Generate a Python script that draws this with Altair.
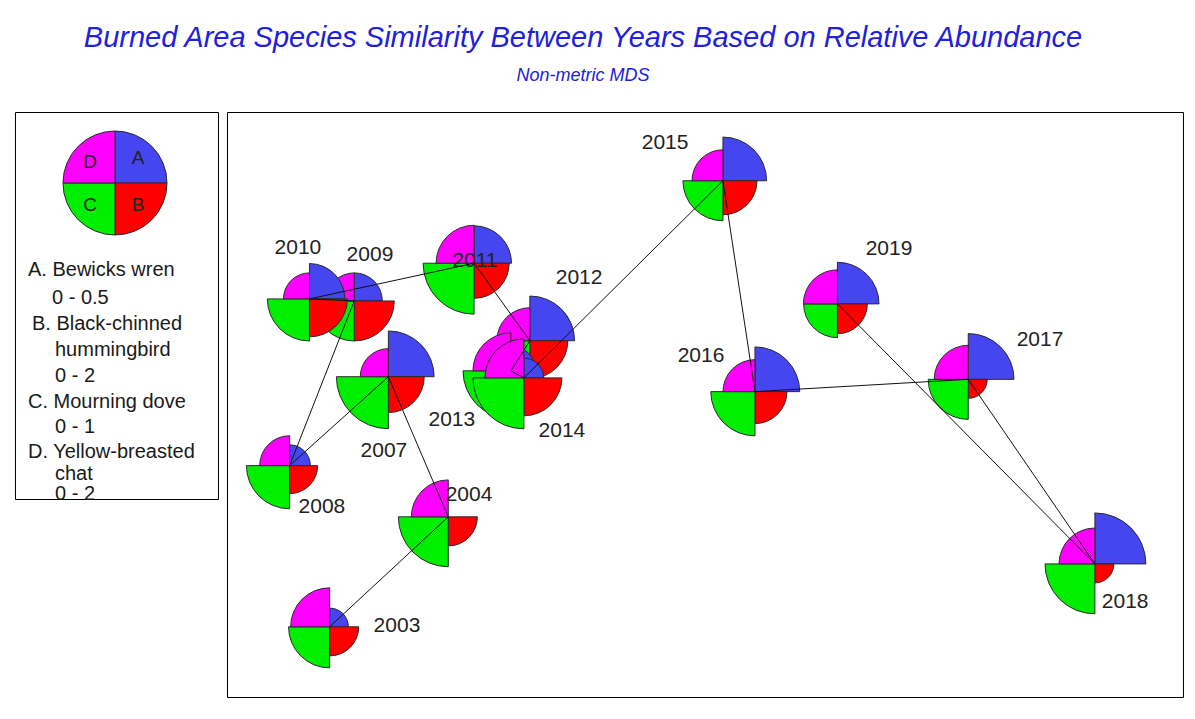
import math
import altair as alt
import pandas as pd

# ---------------- data ----------------
years = [2003, 2004, 2007, 2008, 2009, 2010, 2011, 2012, 2013, 2014, 2015, 2016, 2017, 2018, 2019]
mds1 = [-1.257, -0.857, -1.059, -1.392, -1.174, -1.325, -0.770, -0.582, -0.646, -0.602,
        0.069, 0.177, 0.896, 1.323, 0.455]
mds2 = [-0.760, -0.384, 0.095, -0.209, 0.354, 0.361, 0.483, 0.218, 0.115, 0.091,
        0.765, 0.044, 0.086, -0.545, 0.344]

# relative abundance per species (A..D)
bewicks_wren = [0.18, 0.00, 0.44, 0.20, 0.27, 0.34, 0.36, 0.43, 0.24, 0.19, 0.42, 0.43, 0.44, 0.49, 0.40]
black_chinned_hummingbird = [1.12, 1.12, 1.38, 1.08, 1.54, 1.46, 1.35, 1.46, 1.15, 1.46, 1.31, 1.23, 0.73, 0.73, 1.15]
mourning_dove = [0.79, 0.96, 1.00, 0.83, 0.77, 0.81, 0.98, 0.80, 0.92, 0.98, 0.77, 0.85, 0.77, 0.96, 0.65]
yellow_breasted_chat = [1.50, 1.42, 1.08, 1.15, 1.08, 1.00, 1.46, 1.27, 1.46, 1.50, 1.19, 1.23, 1.31, 1.38, 1.31]

# year label anchor positions (MDS units)
label_x = [-1.030, -0.787, -1.074, -1.283, -1.121, -1.364, -0.767, -0.416, -0.845, -0.474,
           -0.126, -0.005, 1.138, 1.425, 0.629]
label_y = [-0.757, -0.309, -0.159, -0.350, 0.511, 0.535, 0.491, 0.432, -0.053, -0.091,
           0.894, 0.166, 0.221, -0.675, 0.532]

species_codes = ["A", "B", "C", "D"]
species_names = ["Bewicks wren", "Black-chinned hummingbird", "Mourning dove", "Yellow-breasted chat"]
species_max = [0.5, 2.0, 1.0, 2.0]

legend_lines = ["A. Bewicks wren", "0 - 0.5", "B. Black-chinned", "hummingbird", "0 - 2",
                "C. Mourning dove", "0 - 1", "D. Yellow-breasted", "chat", "0 - 2"]

# ---------------- styles ----------------
FONT = "Liberation Sans, Arial, sans-serif"
COLORS = ["#4646f0", "#ff0000", "#00ee00", "#ff00ff"]
R_MAX = 52

series = [bewicks_wren, black_chinned_hummingbird, mourning_dove, yellow_breasted_chat]
rows = []
for i, yr in enumerate(years):
    for k, code in enumerate(species_codes):
        rows.append({
            "year": yr, "mds1": mds1[i], "mds2": mds2[i], "code": code,
            "value": series[k][i], "norm": series[k][i] / species_max[k],
            "t0": k * math.pi / 2, "t1": (k + 1) * math.pi / 2,
        })
glyph_df = pd.DataFrame(rows)
pts_df = pd.DataFrame({"year": years, "mds1": mds1, "mds2": mds2,
                       "lx": label_x, "ly": label_y, "label": [str(y) for y in years]})

xs = alt.Scale(domain=[-1.603, 1.620], nice=False, zero=False)
ys = alt.Scale(domain=[-1.0, 1.0], nice=False, zero=False)
color_scale = alt.Scale(domain=species_codes, range=COLORS)

arcs = alt.Chart(glyph_df).mark_arc(stroke="#2a2a2a", strokeWidth=1).encode(
    x=alt.X("mds1:Q", scale=xs, axis=None),
    y=alt.Y("mds2:Q", scale=ys, axis=None),
    theta=alt.Theta("t0:Q", scale=None, stack=False),
    theta2=alt.Theta2("t1:Q"),
    radius=alt.Radius("norm:Q", scale=alt.Scale(type="linear", domain=[0, 1], range=[0, R_MAX])),
    color=alt.Color("code:N", scale=color_scale, legend=None),
)

lines = alt.Chart(pts_df).mark_line(color="#111111", strokeWidth=1).encode(
    x=alt.X("mds1:Q", scale=xs, axis=None),
    y=alt.Y("mds2:Q", scale=ys, axis=None),
    order=alt.Order("year:Q"),
)

labels = alt.Chart(pts_df).mark_text(font=FONT, fontSize=21, color="#222222",
                                     align="center", baseline="middle").encode(
    x=alt.X("lx:Q", scale=xs, axis=None),
    y=alt.Y("ly:Q", scale=ys, axis=None),
    text="label:N",
)

main = alt.layer(arcs, lines, labels).properties(width=956, height=585)

# ---------------- legend panel ----------------
leg_circle_df = pd.DataFrame({
    "code": species_codes,
    "t0": [k * math.pi / 2 for k in range(4)],
    "t1": [(k + 1) * math.pi / 2 for k in range(4)],
    "tx": [123, 123, 75, 75],
    "ty": [46, 93, 93, 50],
})
leg_arcs = alt.Chart(leg_circle_df).mark_arc(stroke="#2a2a2a", strokeWidth=1).encode(
    x=alt.value(100), y=alt.value(71),
    theta=alt.Theta("t0:Q", scale=None, stack=False),
    theta2=alt.Theta2("t1:Q"),
    radius=alt.value(R_MAX),
    color=alt.Color("code:N", scale=color_scale, legend=None),
)
leg_letters = alt.Chart(leg_circle_df).mark_text(font=FONT, fontSize=19, color="#222222",
                                                 align="center", baseline="middle").encode(
    x=alt.X("tx:Q", scale=None, axis=None),
    y=alt.Y("ty:Q", scale=None, axis=None),
    text="code:N",
)
leg_text_df = pd.DataFrame({
    "line": legend_lines,
    "tx": [13, 37, 17, 40, 40, 13, 40, 13, 40, 40],
    "ty": [158, 186, 212, 238, 264, 290, 315, 340, 362, 382],
})
leg_text = alt.Chart(leg_text_df).mark_text(font=FONT, fontSize=20, color="#1a1a1a",
                                            align="left", baseline="middle").encode(
    x=alt.X("tx:Q", scale=None, axis=None),
    y=alt.Y("ty:Q", scale=None, axis=None),
    text="line:N",
)
legend_panel = alt.layer(leg_arcs, leg_letters, leg_text).properties(width=203, height=387)

chart = alt.hconcat(legend_panel, main, spacing=7).properties(
    title=alt.TitleParams(
        text="Burned Area Species Similarity Between Years Based on Relative Abundance",
        subtitle="Non-metric MDS",
        anchor="middle", dx=-16,
        font=FONT, fontSize=29, fontStyle="italic", fontWeight="normal", color="#2020dd",
        subtitleFont=FONT, subtitleFontSize=18, subtitleFontStyle="italic",
        subtitleColor="#2020dd", subtitlePadding=14, offset=27,
    ),
    padding={"left": 6, "top": 15, "right": 2, "bottom": 5},
).configure_view(stroke="#000000", strokeWidth=1)

chart.save("out.html", embed_options={"renderer": "svg", "actions": False})
